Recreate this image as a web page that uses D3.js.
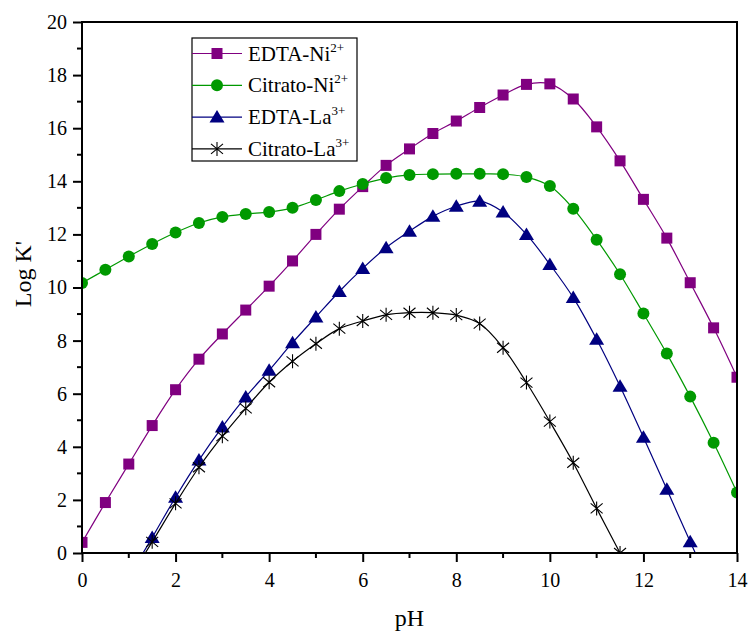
<!DOCTYPE html>
<meta charset="utf-8">
<style>
  body { margin: 0; background: #fff; }
  text { font-family: "Liberation Serif", "Times New Roman", serif; }
</style>
<script src="https://d3js.org/d3.v7.min.js"></script>
<div id="my_dataviz"></div>
<script>
// pH values
var phAll = [0, 0.5, 1, 1.5, 2, 2.5, 3, 3.5, 4, 4.5, 5, 5.5, 6, 6.5, 7,
             7.5, 8, 8.5, 9, 9.5, 10, 10.5, 11, 11.5, 12, 12.5, 13, 13.5, 14];
var edtaNi = [0.4, 1.9, 3.35, 4.8, 6.15, 7.3, 8.25, 9.15, 10.05, 11.0, 12.0, 12.95, 13.8, 14.6, 15.22,
              15.8, 16.27, 16.78, 17.25, 17.65, 17.67, 17.1, 16.05, 14.77, 13.32, 11.86, 10.18, 8.48, 6.62];
var citNi = [10.17, 10.67, 11.17, 11.64, 12.07, 12.43, 12.66, 12.77, 12.84, 13.0, 13.3, 13.63, 13.9, 14.12, 14.24,
             14.27, 14.28, 14.28, 14.27, 14.16, 13.82, 12.97, 11.8, 10.5, 9.02, 7.51, 5.89, 4.15, 2.28];

// La series start at pH 1 (below zero, hidden by the axis)
var phEdtaLa = [1, 1.5, 2, 2.5, 3, 3.5, 4, 4.5, 5, 5.5, 6, 6.5, 7,
                7.5, 8, 8.5, 9, 9.5, 10, 10.5, 11, 11.5, 12, 12.5, 13, 13.5];
var edtaLa = [-0.9, 0.58, 2.1, 3.5, 4.75, 5.88, 6.88, 7.92, 8.89, 9.85, 10.72, 11.5, 12.12,
              12.68, 13.06, 13.25, 12.84, 12.0, 10.87, 9.62, 8.05, 6.28, 4.36, 2.4, 0.42, -1.5];
var phCitLa = [1, 1.5, 2, 2.5, 3, 3.5, 4, 4.5, 5, 5.5, 6, 6.5, 7,
               7.5, 8, 8.5, 9, 9.5, 10, 10.5, 11, 11.5];
var citLa = [-1.0, 0.42, 1.87, 3.23, 4.4, 5.45, 6.43, 7.22, 7.88, 8.45, 8.74, 8.97, 9.05,
             9.05, 8.96, 8.64, 7.73, 6.42, 4.95, 3.4, 1.68, 0.0];

var seriesNames = ["EDTA-Ni", "Citrato-Ni", "EDTA-La", "Citrato-La"];
var seriesCharges = ["2+", "2+", "3+", "3+"];
var xTicks = [0, 2, 4, 6, 8, 10, 12, 14];
var yTicks = [0, 2, 4, 6, 8, 10, 12, 14, 16, 18, 20];

var serif = "'Liberation Serif', 'Times New Roman', serif";

var margin = {top: 22, right: 12, bottom: 84, left: 82},
    width = 737 - margin.left,
    height = 553 - margin.top;

var svg = d3.select("#my_dataviz")
  .append("svg")
  .attr("width", 749)
  .attr("height", 636)
  .attr("font-family", serif);

var g = svg.append("g")
  .attr("transform", "translate(" + margin.left + "," + margin.top + ")");

var x = d3.scaleLinear().domain([0, 14]).range([0, width]);
var y = d3.scaleLinear().domain([0, 20]).range([height, 0]);

g.append("clipPath").attr("id", "plotclip")
  .append("rect").attr("x", 0).attr("y", 0).attr("width", width).attr("height", height);

var series = [
  {name: seriesNames[0], charge: seriesCharges[0], color: "#800080", sym: "square",
   pts: phAll.map(function(p, i) { return [p, edtaNi[i]]; })},
  {name: seriesNames[1], charge: seriesCharges[1], color: "#009900", sym: "circle",
   pts: phAll.map(function(p, i) { return [p, citNi[i]]; })},
  {name: seriesNames[2], charge: seriesCharges[2], color: "#000080", sym: "triangle",
   pts: phEdtaLa.map(function(p, i) { return [p, edtaLa[i]]; })},
  {name: seriesNames[3], charge: seriesCharges[3], color: "#000000", sym: "asterisk",
   pts: phCitLa.map(function(p, i) { return [p, citLa[i]]; })}
];

var line = d3.line()
  .x(function(d) { return x(d[0]); })
  .y(function(d) { return y(d[1]); })
  .curve(d3.curveCatmullRom);

function drawMarker(sel, sym, color) {
  if (sym === "square") {
    sel.append("rect").attr("x", -5.5).attr("y", -5.5).attr("width", 11).attr("height", 11)
      .attr("fill", color);
  } else if (sym === "circle") {
    sel.append("circle").attr("r", 6).attr("fill", color);
  } else if (sym === "triangle") {
    sel.append("path").attr("d", "M0,-7L7.5,5.5L-7.5,5.5Z").attr("fill", color);
  } else {
    // six-armed star: vertical bar and two diagonals
    sel.append("path")
      .attr("d", "M0,-7L0,7M-6,-5L6,5M-6,5L6,-5")
      .attr("stroke", color).attr("stroke-width", 1.1).attr("fill", "none");
  }
}

var plot = g.append("g").attr("clip-path", "url(#plotclip)");

series.forEach(function(s) {
  plot.append("path")
    .datum(s.pts)
    .attr("d", line)
    .attr("fill", "none")
    .attr("stroke", s.color)
    .attr("stroke-width", 1.2);

  plot.selectAll(null)
    .data(s.pts)
    .enter()
    .append("g")
    .attr("transform", function(d) { return "translate(" + x(d[0]) + "," + y(d[1]) + ")"; })
    .each(function() { drawMarker(d3.select(this), s.sym, s.color); });
});

// frame
g.append("rect")
  .attr("x", 0).attr("y", 0).attr("width", width).attr("height", height)
  .attr("fill", "none").attr("stroke", "#000").attr("stroke-width", 2);

// x axis
var xAxis = g.append("g").attr("transform", "translate(0," + height + ")");
xAxis.call(d3.axisBottom(x).tickValues(xTicks).tickSize(9).tickFormat(d3.format("d")));
xAxis.append("g").selectAll("line")
  .data(d3.range(1, 14, 2)).enter().append("line")
  .attr("x1", function(d) { return x(d); }).attr("x2", function(d) { return x(d); })
  .attr("y1", 0).attr("y2", 5).attr("stroke", "#000").attr("stroke-width", 2);

// y axis
var yAxis = g.append("g");
yAxis.call(d3.axisLeft(y).tickValues(yTicks).tickSize(9).tickFormat(d3.format("d")));
yAxis.append("g").selectAll("line")
  .data(d3.range(1, 20, 2)).enter().append("line")
  .attr("y1", function(d) { return y(d); }).attr("y2", function(d) { return y(d); })
  .attr("x1", 0).attr("x2", -5).attr("stroke", "#000").attr("stroke-width", 2);

[xAxis, yAxis].forEach(function(a) {
  a.attr("font-family", serif).attr("font-size", 20);
  a.select(".domain").remove();
  a.selectAll(".tick line").attr("stroke-width", 2);
  a.selectAll(".tick text").attr("fill", "#000");
});
xAxis.selectAll(".tick text").attr("dy", "1.05em").attr("y", 13);
yAxis.selectAll(".tick text").attr("x", -15);

// axis titles
svg.append("text")
  .attr("x", margin.left + width / 2)
  .attr("y", 626)
  .attr("text-anchor", "middle")
  .attr("font-size", 24)
  .text("pH");

svg.append("text")
  .attr("transform", "translate(31," + 274 + ")rotate(-90)")
  .attr("text-anchor", "middle")
  .attr("font-size", 24)
  .text("Log K'");

// legend
var lg = svg.append("g").attr("transform", "translate(192,38)");
lg.append("rect")
  .attr("width", 165).attr("height", 123)
  .attr("fill", "#fff").attr("stroke", "#000").attr("stroke-width", 1.2);

series.forEach(function(s, i) {
  var row = lg.append("g").attr("transform", "translate(0," + (15.5 + i * 31.8) + ")");
  row.append("line").attr("x1", 0).attr("x2", 50).attr("y1", 0).attr("y2", 0)
    .attr("stroke", s.color).attr("stroke-width", 1.2);
  drawMarker(row.append("g").attr("transform", "translate(25,0)"), s.sym, s.color);
  var t = row.append("text").attr("x", 56).attr("y", 7).attr("font-size", 21);
  t.append("tspan").text(s.name);
  t.append("tspan").attr("dy", -9).attr("font-size", 13).text(s.charge);
});
</script>
